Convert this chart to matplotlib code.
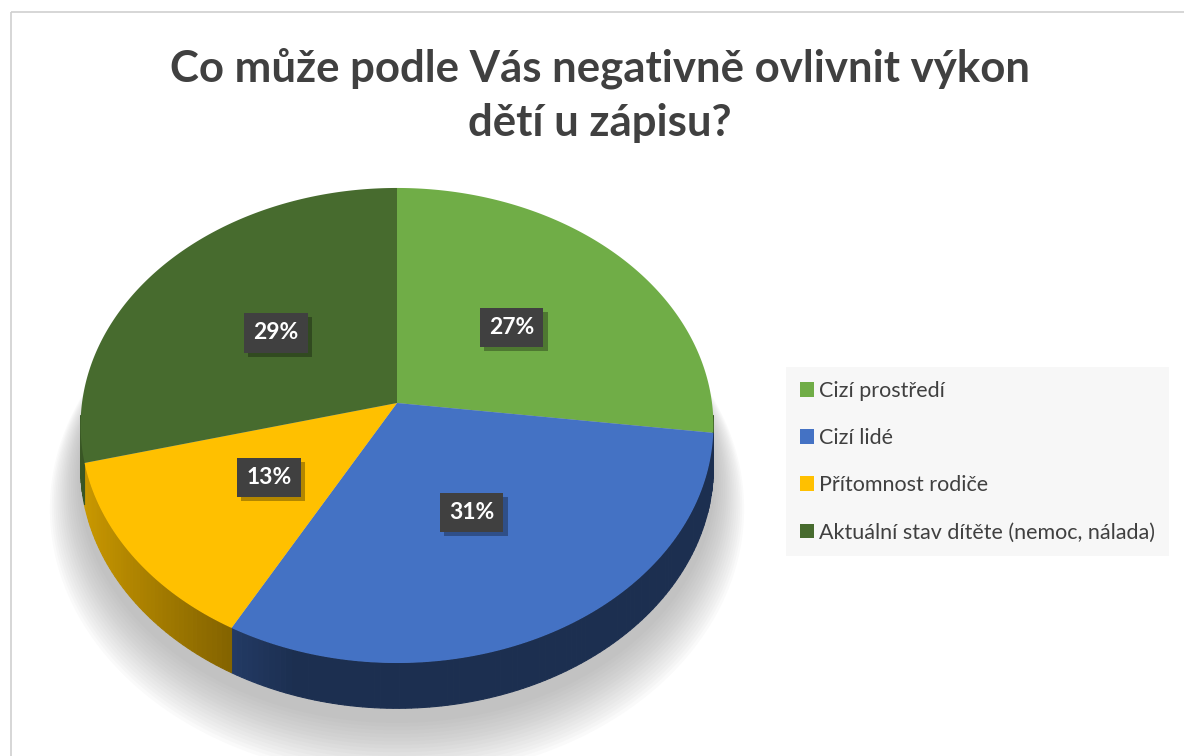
import numpy as np
import matplotlib.pyplot as plt
import matplotlib.patheffects as pe
from matplotlib.patches import Polygon, Rectangle, Patch
from matplotlib.colors import to_rgb

# data
categories = ['Cizí prostředí', 'Cizí lidé', 'Přítomnost rodiče',
              'Aktuální stav dítěte (nemoc, nálada)']
values = [27, 31, 13, 29]
colors = ['#70ad47', '#4472c4', '#ffc000', '#476b2e']
title = 'Co může podle Vás negativně ovlivnit výkon\ndětí u zápisu?'

# geometry of the 3D pie (pixel units)
CX, CY = 397, 403
A, B, P = 315, 235.4, 0.0947
DEPTH = 41

plt.rcParams['font.family'] = ['Lato', 'DejaVu Sans']


def proj(phi, r=1.0, z=0.0):
    X = r * np.sin(phi)
    Y = -r * np.cos(phi)
    w = 1 - P * Y
    return CX + A * X / w, CY + (B * Y + z) / w


def shade(color, f):
    return tuple(np.clip(np.array(to_rgb(color)) * f, 0, 1))


fig = plt.figure(figsize=(11.84, 7.56), dpi=100)
ax = fig.add_axes([0, 0, 1, 1])
ax.set_xlim(0, 1184)
ax.set_ylim(756, 0)
ax.axis('off')

# chart border
ax.add_patch(Rectangle((10.5, 11.5), 1200, 800, fill=False, ec='#d0d0d0', lw=1.2))

# soft shadow under the pie
full = np.linspace(0, 2 * np.pi, 361)
for k in range(16, 0, -1):
    xs, ys = proj(full, r=1 + 0.006 * k, z=DEPTH + 10 + 1.7 * k)
    ax.add_patch(Polygon(np.column_stack([xs, ys]), closed=True,
                         fc='#8a8a8a', ec='none', alpha=0.04))

total = float(sum(values))
bounds = np.concatenate([[0], np.cumsum(values)]) / total * 2 * np.pi
lo, hi = np.radians(93), np.radians(267)

# sides
for i, c in enumerate(colors):
    a, b = max(bounds[i], lo), min(bounds[i + 1], hi)
    if b <= a:
        continue
    steps = np.linspace(a, b, max(2, int(np.degrees(b - a)) + 1))
    for p0, p1 in zip(steps[:-1], steps[1:]):
        x0, y0 = proj(p0)
        x1, y1 = proj(p1)
        x2, y2 = proj(p1, z=DEPTH)
        x3, y3 = proj(p0, z=DEPTH)
        Xm = np.sin((p0 + p1) / 2)
        f = 0.41 + 0.4 * np.clip((-Xm - 0.3) / 0.7, 0, 1)
        ax.add_patch(Polygon([(x0, y0), (x1, y1), (x2, y2), (x3, y3)], closed=True,
                             fc=shade(c, f), ec=shade(c, f), lw=0.8))

# top faces
for i, c in enumerate(colors):
    arc = np.linspace(bounds[i], bounds[i + 1], 200)
    xs, ys = proj(arc)
    pts = np.vstack([[CX, CY], np.column_stack([xs, ys])])
    ax.add_patch(Polygon(pts, closed=True, fc=c, ec='none'))

# data labels
for i, v in enumerate(values):
    mid = (bounds[i] + bounds[i + 1]) / 2
    lx, ly = proj(mid, r=0.5)
    lab = '%d%%' % round(v / total * 100)
    t = ax.text(lx, ly, lab, ha='center', va='center', fontsize=16.5,
                fontweight='bold', color='white',
                bbox=dict(boxstyle='square,pad=0.4', fc='#404040', ec='none'))
    t.get_bbox_patch().set_path_effects(
        [pe.SimplePatchShadow(offset=(3, -3), shadow_rgbFace='black', alpha=0.3),
         pe.Normal()])

# title
ax.text(600, 95, title, ha='center', va='center', fontsize=31.5,
        fontweight='bold', color='#404040', linespacing=1.42)

# legend
handles = [Patch(facecolor=c, edgecolor='none') for c in colors]
fig.legend(handles, categories, loc='upper left',
           bbox_to_anchor=(786 / 1184, 1 - 367 / 756), borderaxespad=0,
           frameon=True, facecolor='#f7f7f7', edgecolor='none', framealpha=1,
           fancybox=False, fontsize=15.5, handlelength=0.65, handleheight=0.65,
           handletextpad=0.25, labelspacing=1.26, borderpad=0.65,
           labelcolor='#404040')

fig.savefig('out.png', dpi=100)
